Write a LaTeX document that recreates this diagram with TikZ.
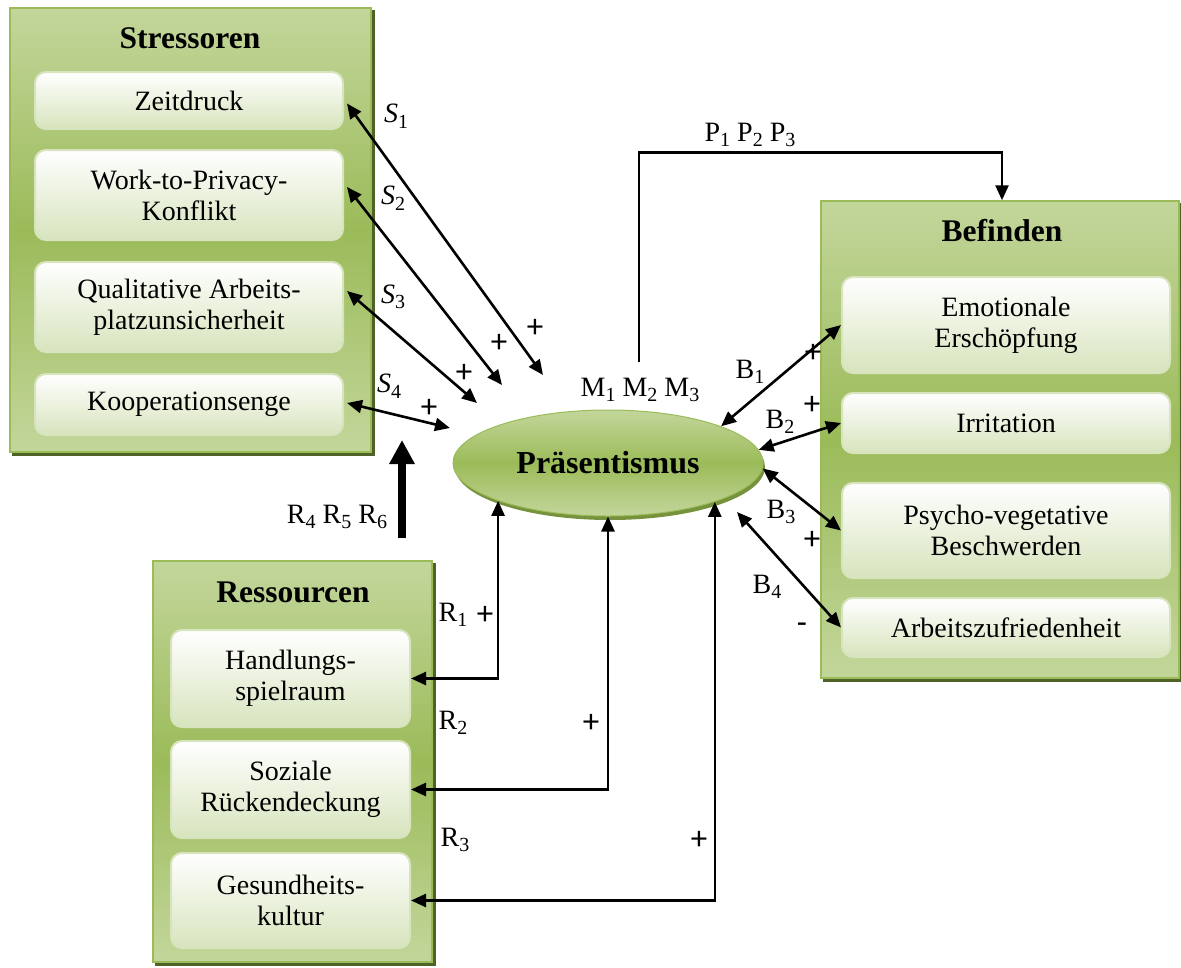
\documentclass[tikz,border=0pt]{standalone}
\usepackage{fontspec}
\setmainfont{Liberation Serif}
\newfontfamily\signfont{Carlito}
\usetikzlibrary{arrows.meta,shapes.geometric,calc,backgrounds}

\definecolor{olivelight}{HTML}{C3D69B}
\definecolor{olivemid}{HTML}{9BBB59}
\definecolor{olivedark}{HTML}{4F6228}
\definecolor{oliveshade}{HTML}{76923C}
\definecolor{paleolive}{HTML}{D7E4BD}

\newcommand\bodyfont{\fontsize{28}{31}\selectfont}
\newcommand\titlefont{\fontsize{31.5}{34}\selectfont\bfseries}
\newcommand\sub[1]{\raisebox{-0.2em}{\fontsize{20}{20}\selectfont #1}}

\tikzset{
  group/.style={rectangle, draw=olivemid, line width=1.5pt, inner sep=0pt,
    top color=olivelight, bottom color=olivelight, middle color=olivemid},
  grouptitle/.style={font=\titlefont, inner sep=0pt},
  item/.style={rectangle, rounded corners=11pt, draw=paleolive, line width=2pt,
    top color=white, bottom color=paleolive, align=center, font=\bodyfont,
    inner sep=0pt},
  centre/.style={ellipse, draw=olivemid, line width=1pt, inner sep=0pt,
    minimum width=310pt, minimum height=106pt,
    top color=olivelight, bottom color=olivelight, middle color=olivemid,
    font=\fontsize{32}{34}\selectfont\bfseries},
  lab/.style={font=\bodyfont, inner sep=0pt},
  sign/.style={font=\signfont\fontsize{33}{34}\selectfont, inner sep=0pt},
  link/.style={line width=2.6pt, >={Triangle[length=15pt,width=13pt]}},
  bold link/.style={line width=8pt, -{Triangle[length=24pt,width=24pt]}}
}

\begin{document}
\begin{tikzpicture}[x=1pt,y=-1pt]
\useasboundingbox (0,0) rectangle (1181,967);

% ---- Stressoren ----
\node[group, minimum width=361pt, minimum height=444pt] (str) at (190.5,230) {};
\node[grouptitle] (strT) at (190,38) {Stressoren};
\node[item, minimum width=308pt, minimum height=57pt] (zeit) at (189,100.5) {Zeitdruck};
\node[item, minimum width=308pt, minimum height=90pt] (work) at (189,195) {Work-to-Privacy-\\Konflikt};
\node[item, minimum width=308pt, minimum height=90pt] (qual) at (189,307) {Qualitative Arbeits-\\platzunsicherheit};
\node[item, minimum width=308pt, minimum height=61pt] (koop) at (189,404.5) {Kooperationsenge};

% ---- Befinden ----
\node[group, minimum width=358pt, minimum height=477pt] (bef) at (1000,439.5) {};
\node[grouptitle] (befT) at (1002,231) {Befinden};
\node[item, minimum width=328pt, minimum height=96pt] (emo) at (1006,325) {Emotionale\\Erschöpfung};
\node[item, minimum width=328pt, minimum height=60pt] (irr) at (1006,423) {Irritation};
\node[item, minimum width=328pt, minimum height=95pt] (psy) at (1006,530.5) {Psycho-vegetative\\Beschwerden};
\node[item, minimum width=328pt, minimum height=59pt] (arb) at (1006,627.5) {Arbeitszufriedenheit};

% ---- Ressourcen ----
\node[group, minimum width=279pt, minimum height=401pt] (res) at (292.5,761.5) {};
\node[grouptitle] (resT) at (293,592) {Ressourcen};
\node[item, minimum width=239pt, minimum height=97pt] (hand) at (290.5,678.5) {Handlungs-\\spielraum};
\node[item, minimum width=239pt, minimum height=97pt] (soz) at (290.5,789.5) {Soziale\\Rückendeckung};
\node[item, minimum width=239pt, minimum height=95pt] (ges) at (290.5,900.5) {Gesundheits-\\kultur};

% ---- Präsentismus ----
\node[centre] (pres) at (608,463) {Präsentismus};

% shadows behind the panels and the ellipse
\begin{scope}[on background layer]
  \foreach \n in {str,bef,res}
    \fill[olivedark] ($(\n.south west)+(3,3)$) rectangle ($(\n.north east)+(3,3)$);
  \fill[oliveshade] ($(pres.center)+(2,4)$) ellipse [x radius=155pt, y radius=53pt];
\end{scope}

% free ends of the connectors
\coordinate (s1end) at (543,375);
\coordinate (s2end) at (502,385);
\coordinate (s3end) at (477,403);
\coordinate (s4end) at (450,428);
\coordinate (b4end) at (737,512);
\coordinate (pstart) at (639,362);
\coordinate (rbase) at (402,538);
\coordinate (rtop) at (402,440);

% stressor links
\draw[link,<->] ($(zeit.east)+(3,3)$) -- (s1end);
\draw[link,<->] ($(work.east)+(3,-8)$) -- (s2end);
\draw[link,<->] ($(qual.east)+(3,-16)$) -- (s3end);
\draw[link,<->] ($(koop.east)+(3,-1.5)$) -- (s4end);

% well-being links
\draw[link,<->] (pres.18) -- (emo.west);
\draw[link,<->] (pres.5) -- (irr.west);
\draw[link,<->] (pres.-2) -- (psy.west);
\draw[link,<->] (b4end) -- (arb.west);

% resource links
\draw[link,<->] (pres.199.2) |- (hand.east);
\draw[link,<->] (pres.south) |- (soz.east);
\draw[link,<->] (pres.340.8) |- (ges.east);

% path to Befinden
\draw[link,->] (pstart) |- ($(bef.north)+(2,-48)$) -- ($(bef.north)+(2,0)$);

% resources acting on stressors
\draw[bold link] (rbase) -- (rtop);

% labels
\node[lab] (lS1) at (396,116) {\textit{S}\sub{1}};
\node[lab] (lS2) at (393,198) {\textit{S}\sub{2}};
\node[lab] (lS3) at (393,297) {\textit{S}\sub{3}};
\node[lab] (lS4) at (389,386) {\textit{S}\sub{4}};
\node[sign] (pS1) at (535,328) {+};
\node[sign] (pS2) at (499,343) {+};
\node[sign] (pS3) at (464,373) {+};
\node[sign] (pS4) at (429,408) {+};

\node[lab] (lM) at (640,390) {M\sub{1} M\sub{2} M\sub{3}};
\node[lab] (lP) at (750,135) {P\sub{1} P\sub{2} P\sub{3}};

\node[lab] (lB1) at (750,372) {B\sub{1}};
\node[lab] (lB2) at (780,422) {B\sub{2}};
\node[lab] (lB3) at (781,512) {B\sub{3}};
\node[lab] (lB4) at (767,587) {B\sub{4}};
\node[sign] (pB1) at (813,353) {+};
\node[sign] (pB2) at (812,405) {+};
\node[sign] (pB3) at (812,540) {+};
\node[sign] (pB4) at (802,628) {-};

\node[lab] (lR456) at (337,517) {R\sub{4} R\sub{5} R\sub{6}};
\node[lab] (lR1) at (453,615) {R\sub{1}};
\node[lab] (lR2) at (453,723) {R\sub{2}};
\node[lab] (lR3) at (455,840) {R\sub{3}};
\node[sign] (pR1) at (485,615) {+};
\node[sign] (pR2) at (591,723) {+};
\node[sign] (pR3) at (699,840) {+};
\end{tikzpicture}
\end{document}
